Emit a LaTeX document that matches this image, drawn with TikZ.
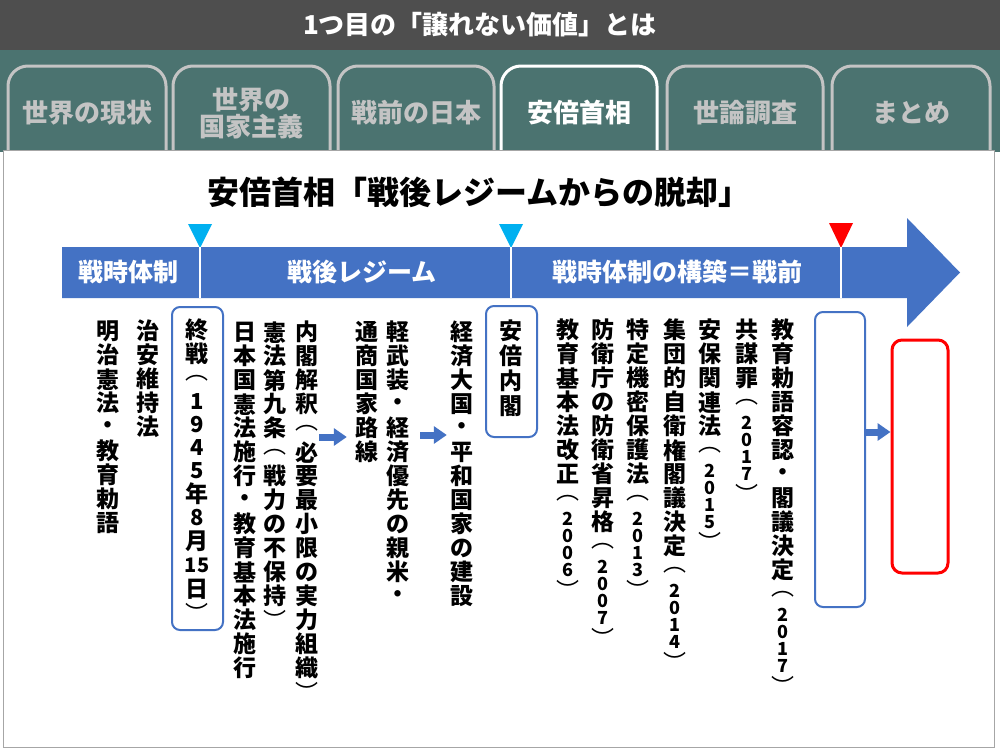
\documentclass[tikz,border=0pt]{standalone}
\usepackage{fontspec}
\setmainfont{Noto Sans CJK JP}
\usetikzlibrary{arrows.meta,positioning}

\definecolor{slideblue}{HTML}{4472C4}
\definecolor{markcyan}{HTML}{00B0F0}
\definecolor{markred}{HTML}{FF0000}
\definecolor{headgray}{HTML}{4E4E4E}
\definecolor{tabteal}{HTML}{4B7370}
\definecolor{tabline}{HTML}{C4C4C4}
\definecolor{framegray}{HTML}{A6A6A6}

\newcommand\colfont{\bfseries\fontsize{23}{24}\selectfont}
\newcommand\digitfont{\fontsize{18}{18}\selectfont}

% vertical (tategaki) column: one glyph per slot
\makeatletter
\newlength\vcW \newlength\vcD \newlength\vcX
\setlength\vcW{24pt}\setlength\vcD{17pt}\setlength\vcX{24pt}
\def\vc@stop{\vc@stop}
\def\vc@lp{(}
\def\vc@rp{)}
\newcommand\vcol[1]{\vbox{\offinterlineskip\vc@loop#1\vc@stop}}
\def\vc@loop#1{\def\vc@tmp{#1}%
  \ifx\vc@tmp\vc@stop\else\vc@put{#1}\expandafter\vc@loop\fi}
\def\vc@put#1{\def\vc@tmp{#1}%
  \ifx\vc@tmp\vc@lp \vc@slot\vcW{\mdseries ︵}%
  \else\ifx\vc@tmp\vc@rp \vc@slot\vcW{\mdseries ︶}%
  \else
    \setbox\z@\hbox{#1}%
    \ifdim\wd\z@<.7em \vc@slot\vcD{\digitfont#1}%
    \else\vc@slot\vcW{#1}\fi
  \fi\fi}
\def\vc@slot#1#2{\vbox to #1{\vss\hbox to \vcX{\hss#2\hss}\vss}}
\makeatother

\begin{document}
\begin{tikzpicture}[x=1pt, y=-1pt,
    column/.style={inner sep=0pt, anchor=north, font=\colfont},
    tabedge/.style={draw=tabline, line width=3pt, rounded corners=20pt},
    tabtext/.style={text=tabline, font=\bfseries\fontsize{26}{27}\selectfont, align=center},
    bandtext/.style={text=white, font=\bfseries\fontsize{25}{28}\selectfont},
    framebox/.style={draw=slideblue, line width=2pt, rounded corners=8pt, minimum width=51pt},
    flow/.style={slideblue, line width=7pt, -{Triangle[length=13pt,width=17pt]}}]

    \useasboundingbox (0,0) rectangle (1000,752);

    % Header
    \fill[headgray] (0,0) rectangle (1000,50);
    \fill[tabteal] (0,50) rectangle (1000,152);
    \node[text=white, font=\bfseries\fontsize{26}{30}\selectfont] (head) at (480,25) {1つ目の「譲れない価値」とは};

    % Tabs
    \draw[tabedge] (8,152) -- (8,66) -- (166,66) -- (166,152);
    \draw[tabedge] (173,152) -- (173,66) -- (330,66) -- (330,152);
    \draw[tabedge] (338,152) -- (338,66) -- (494,66) -- (494,152);
    \draw[tabedge, draw=white] (501,152) -- (501,66) -- (657,66) -- (657,152);
    \draw[tabedge] (667,152) -- (667,66) -- (823,66) -- (823,152);
    \draw[tabedge] (832,152) -- (832,66) -- (990,66) -- (990,152);
    \node[tabtext] (t1) at (87,113) {世界の現状};
    \node[tabtext] (t2) at (251,113) {世界の\\国家主義};
    \node[tabtext] (t3) at (416,113) {戦前の日本};
    \node[tabtext, text=white] (t4) at (579,113) {安倍首相};
    \node[tabtext] (t5) at (745,113) {世論調査};
    \node[tabtext] (t6) at (911,113) {まとめ};

    % Slide area
    \draw[framegray, fill=white] (3,150) rectangle (994,747);
    \node[font=\bfseries\fontsize{32}{36}\selectfont] (title) at (479,192) {安倍首相「戦後レジームからの脱却」};

    % Timeline arrow
    \fill[slideblue] (62,247) -- (907,247) -- (907,218) -- (960,272.5) -- (907,327) -- (907,298) -- (62,298) -- cycle;
    \fill[markcyan] (188,224) -- (212,224) -- (200,248) -- cycle;
    \fill[markcyan] (499,224) -- (523,224) -- (511,248) -- cycle;
    \fill[markred] (829,223) -- (853,223) -- (841,248) -- cycle;
    \draw[white, line width=2pt] (200,247) -- (200,298);
    \draw[white, line width=2pt] (511,247) -- (511,298);
    \draw[white, line width=2pt] (841,247) -- (841,298);
    \node[bandtext] (wartime) at (128,272) {戦時体制};
    \node[bandtext] (regime) at (362,272) {戦後レジーム};
    \node[bandtext] (prewar) at (677,272) {戦時体制の構築＝戦前};

    % Boxes
    \node[framebox, minimum height=323pt] (endbox) at (197.5,468.5) {};
    \node[framebox, minimum height=131pt] (abebox) at (511.5,371.5) {};
    \node[framebox, minimum width=50pt, minimum height=295pt] (nextbox) at (840,459.5) {};
    \node[draw=markred, line width=3pt, rounded corners=10pt, minimum width=56pt, minimum height=233pt] (goal) at (920,456.5) {};

    % Columns
    \node[column] (c1) at (108,319) {\vcol{明治憲法・教育勅語}};
    \node[column] (c2) at (148,319) {\vcol{治安維持法}};
    \node[column] (c3) at (197,318) {\setlength\vcW{24pt}\setlength\vcD{23pt}%
        \renewcommand\digitfont{\fontsize{22}{22}\selectfont}%
        \vcol{終戦(1945年8月{\fontsize{20}{20}\selectfont 15}日)}};
    \node[column] (c6) at (245,320) {\vcol{日本国憲法施行・教育基本法施行}};
    \node[column] (c5) at (275,320) {\vcol{憲法第九条(戦力の不保持)}};
    \node[column] (c4) at (307,320) {\vcol{内閣解釈(必要最小限の実力組織)}};
    \node[column] (c8) at (367,320) {\vcol{通商国家路線}};
    \node[column] (c7) at (398,320) {\vcol{軽武装・経済優先の親米・}};
    \node[column] (c9) at (462,320) {\vcol{経済大国・平和国家の建設}};
    \node[column] (c10) at (511,318) {\setlength\vcW{25pt}\vcol{安倍内閣}};
    \node[column] (c11) at (568,318) {\vcol{教育基本法改正(2006)}};
    \node[column] (c12) at (603,318) {\vcol{防衛庁の防衛省昇格(2007)}};
    \node[column] (c13) at (638,318) {\vcol{特定機密保護法(2013)}};
    \node[column] (c14) at (675,318) {\vcol{集団的自衛権閣議決定(2014)}};
    \node[column] (c15) at (710,318) {\vcol{安保関連法(2015)}};
    \node[column] (c16) at (747,318) {\vcol{共謀罪(2017)}};
    \node[column] (c17) at (783,318) {\vcol{教育勅語容認・閣議決定(2017)}};

    % Small arrows
    \coordinate (row1) at (0,437);
    \coordinate (row2) at (0,435);
    \coordinate (row3) at (0,432);
    \draw[flow, shorten >=8pt] (c4.east |- row1) -- (c8.west |- row1);
    \draw[flow, shorten <=10pt, shorten >=3pt] (c7.east |- row2) -- (c9.west |- row2);
    \draw[flow] (nextbox.east |- row3) -- (goal.west |- row3);

\end{tikzpicture}
\end{document}
